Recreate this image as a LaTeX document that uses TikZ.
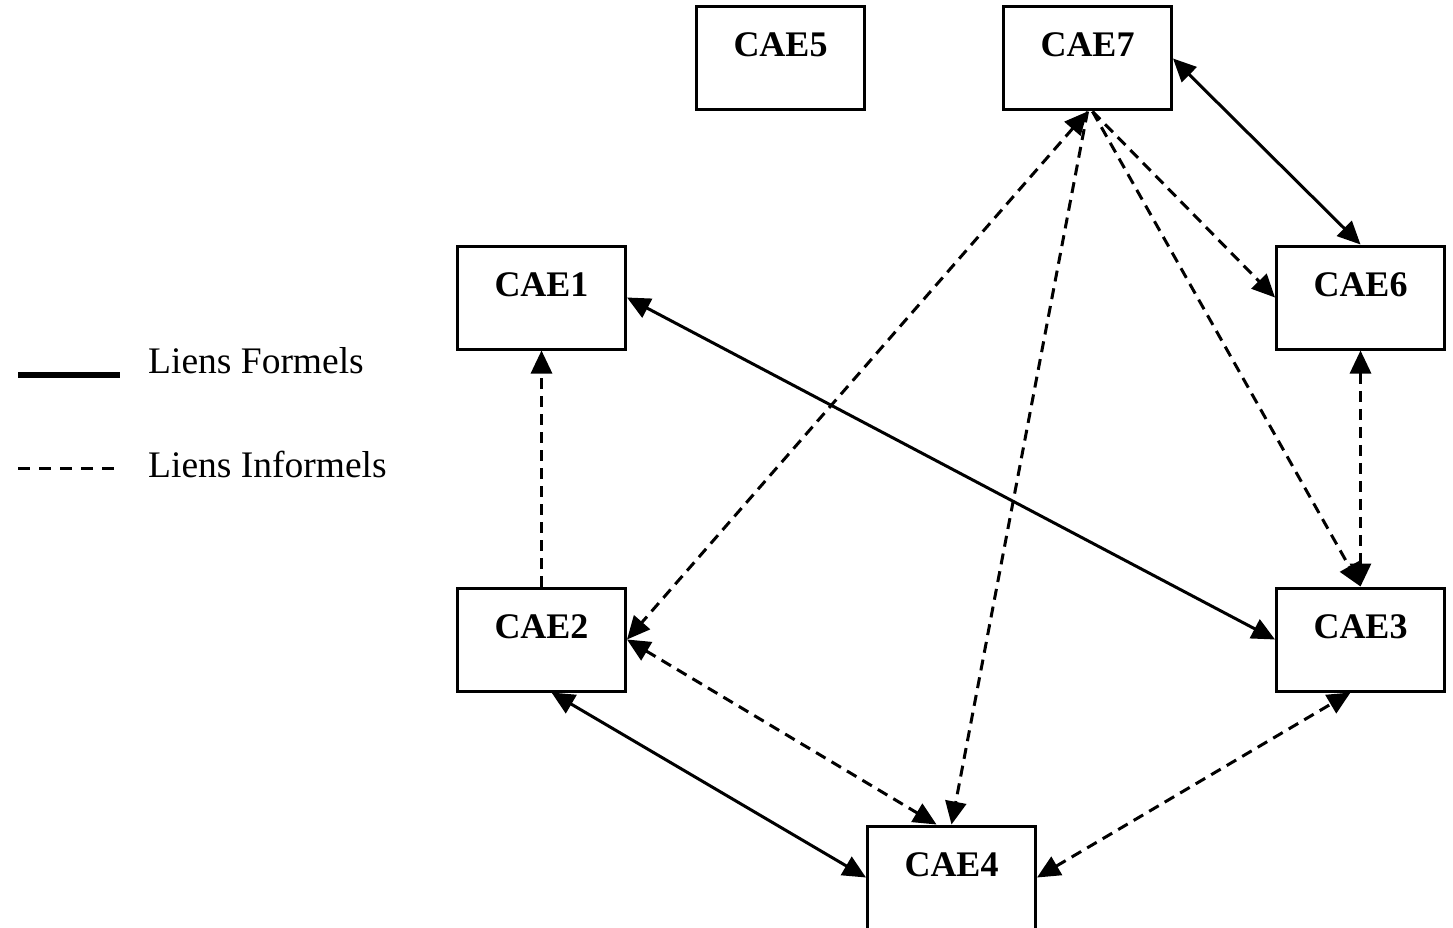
\documentclass[tikz,border=0pt]{standalone}
\usepackage{fontspec}
\setmainfont{Liberation Serif}
\usetikzlibrary{arrows.meta}
\begin{document}
\begin{tikzpicture}[x=1pt,y=-1pt,
  cae/.style={draw, line width=3pt, inner sep=0pt, minimum width=168pt,
    text height=50pt, text depth=53pt, anchor=base,
    font=\fontsize{36}{36}\selectfont\bfseries},
  link/.style={line width=3pt, >={Triangle[length=23pt,width=21pt]}},
  formal/.style={link},
  informal/.style={link, dash pattern=on 11pt off 7pt},
  legtext/.style={anchor=base west, inner sep=0pt, font=\fontsize{37.5}{37.5}\selectfont}
]
\useasboundingbox (0,0) rectangle (1453,928);

\node[cae] (CAE5) at (780.5,57) {CAE5};
\node[cae] (CAE7) at (1087.5,57) {CAE7};
\node[cae] (CAE1) at (541.5,296) {CAE1};
\node[cae] (CAE6) at (1360.5,296) {CAE6};
\node[cae] (CAE2) at (541.5,638) {CAE2};
\node[cae] (CAE3) at (1360.5,638) {CAE3};
\node[cae] (CAE4) at (951.5,876) {CAE4};

% legend
\coordinate (lf1) at (18,375);
\coordinate (lf2) at (120,375);
\coordinate (li1) at (18,468);
\coordinate (li2) at (120,468);
\draw[line width=6.5pt] (lf1) -- (lf2);
\draw[line width=3pt, dash pattern=on 12pt off 9pt] (li1) -- (li2);
\node[legtext] (tf) at (148,373) {Liens Formels};
\node[legtext] (ti) at (148,477) {Liens Informels};

% formal links
\draw[formal,<->] (CAE7.east) -- (CAE6.north);
\draw[formal,<->] (CAE1.east) -- (CAE3.west);
\draw[formal,<->] ([xshift=10pt]CAE2.south) -- (CAE4.west);

% informal links
\draw[informal,->] ([xshift=5pt]CAE7.south) -- (CAE6.west);
\draw[informal,->] ([xshift=5pt]CAE7.south) -- (CAE3.north);
\draw[informal,->] (CAE7.south) -- (CAE4.north);
\draw[informal,<->] (CAE7.south) -- (CAE2.east);
\draw[informal,->] (CAE2.north) -- (CAE1.south);
\draw[informal,<->] (CAE6.south) -- (CAE3.north);
\draw[informal,<->] (CAE2.east) -- ([xshift=-15pt]CAE4.north);
\draw[informal,<->] (CAE4.east) -- ([xshift=-10pt]CAE3.south);
\end{tikzpicture}
\end{document}
